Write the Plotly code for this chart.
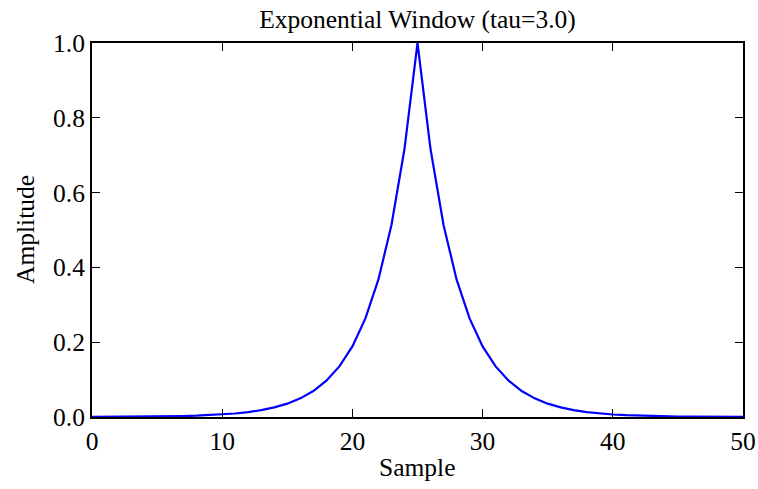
import plotly.graph_objects as go

samples = list(range(51))
amplitude = [
    0.0002, 0.0003, 0.0005, 0.0007, 0.0009, 0.0013, 0.0018, 0.0025, 0.0035, 0.0048,
    0.0067, 0.0094, 0.0131, 0.0183, 0.0256, 0.0357, 0.0498, 0.0695, 0.0970, 0.1353,
    0.1889, 0.2636, 0.3679, 0.5134, 0.7165, 1.0000, 0.7165, 0.5134, 0.3679, 0.2636,
    0.1889, 0.1353, 0.0970, 0.0695, 0.0498, 0.0357, 0.0256, 0.0183, 0.0131, 0.0094,
    0.0067, 0.0048, 0.0035, 0.0025, 0.0018, 0.0013, 0.0009, 0.0007, 0.0005, 0.0003,
    0.0002,
]
x_ticks = [0, 10, 20, 30, 40, 50]
y_ticks = [0.0, 0.2, 0.4, 0.6, 0.8, 1.0]
y_tick_labels = ["0.0", "0.2", "0.4", "0.6", "0.8", "1.0"]

font = "Liberation Serif, Times New Roman, serif"
fs = 25.5

fig = go.Figure(go.Scatter(x=samples, y=amplitude, mode="lines",
                           line=dict(color="#0000ff", width=2.2)))

axis_common = dict(showline=True, linecolor="black", linewidth=2, mirror="ticks",
                   ticks="inside", ticklen=8, tickwidth=1, tickcolor="black",
                   showgrid=False, zeroline=False, automargin=False,
                   tickfont=dict(family=font, size=fs, color="black"))

fig.update_layout(
    width=758, height=489,
    margin=dict(l=92, r=15, t=43, b=72),
    paper_bgcolor="white", plot_bgcolor="white",
    showlegend=False,
    title=dict(text="Exponential Window (tau=3.0)", x=0.5, xref="paper", xanchor="center",
               y=1 - 19 / 489, yref="container", yanchor="middle",
               font=dict(family=font, size=fs, color="black")),
    xaxis=dict(range=[0, 50], tickvals=x_ticks, **axis_common),
    yaxis=dict(range=[0, 1], tickvals=y_ticks, ticktext=y_tick_labels, **axis_common),
    annotations=[
        dict(text="Sample", xref="paper", yref="paper", x=0.5, y=(417 - 467) / 374,
             xanchor="center", yanchor="middle", showarrow=False,
             font=dict(family=font, size=fs, color="black")),
        dict(text="Amplitude", xref="paper", yref="paper", x=(25 - 92) / 651, y=0.5,
             xanchor="center", yanchor="middle", textangle=-90, showarrow=False,
             font=dict(family=font, size=fs, color="black")),
    ],
)

fig.write_html("out.html", config={"displayModeBar": False},
               post_script="document.body.style.margin='0px';")
